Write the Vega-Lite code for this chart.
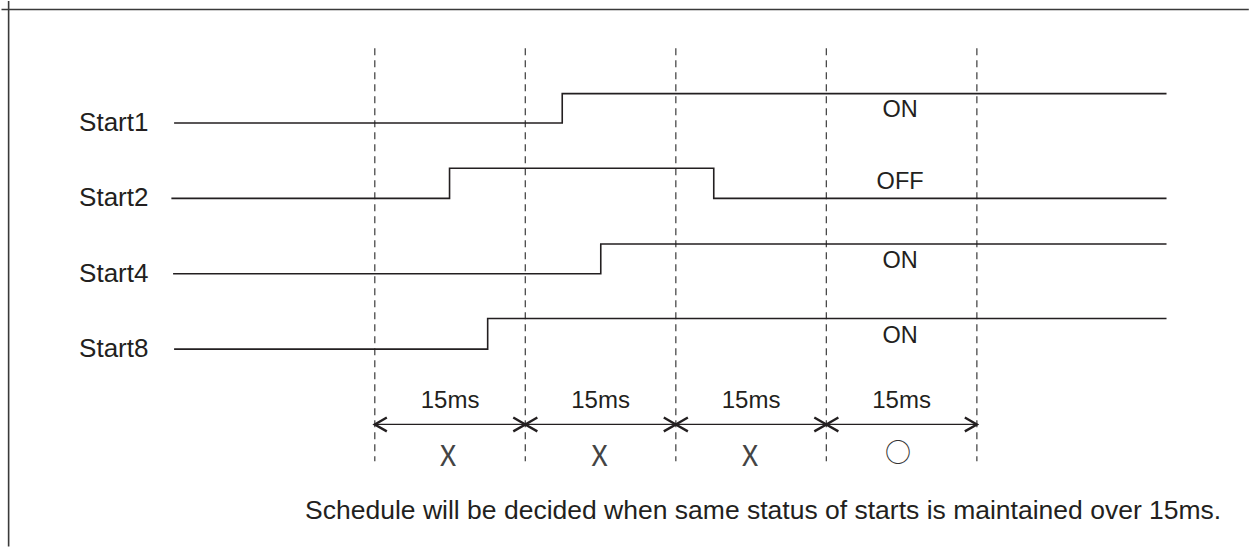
{
  "$schema": "https://vega.github.io/schema/vega-lite/v6.json",
  "width": 1250,
  "height": 548,
  "padding": 0,
  "autosize": {"type": "fit", "contains": "padding"},
  "background": "white",
  "config": {"view": {"stroke": null}},
  "encoding": {
    "x": {"field": "t", "type": "quantitative", "axis": null, "scale": {"domain": [-37.15, 87.02], "nice": false, "zero": false}},
    "y": {"field": "y", "type": "quantitative", "axis": null, "scale": {"domain": [-1.613, 5.619], "nice": false, "zero": false}}
  },
  "layer": [
    {
      "data": {"values": [
        {"t": -36.49, "y": 5.62, "t2": -36.49, "y2": -1.62},
        {"t": -37.2, "y": 5.507, "t2": 87.1, "y2": 5.507}
      ]},
      "mark": {"type": "rule", "color": "#3a3a3a", "strokeWidth": 1.6},
      "encoding": {"x2": {"field": "t2"}, "y2": {"field": "y2"}}
    },
    {
      "data": {"values": [
        {"t": 0, "y": 4.993, "y2": -0.49},
        {"t": 15, "y": 4.993, "y2": -0.49},
        {"t": 30, "y": 4.993, "y2": -0.49},
        {"t": 45, "y": 4.993, "y2": -0.49},
        {"t": 60, "y": 4.993, "y2": -0.49}
      ]},
      "mark": {"type": "rule", "color": "#4a4a4a", "strokeWidth": 1.3, "strokeDash": [7, 5]},
      "encoding": {"y2": {"field": "y2"}}
    },
    {
      "data": {"values": [
        {"signal": "Start1", "i": 0, "t": -20.0, "y": 4.0},
        {"signal": "Start1", "i": 1, "t": 18.68, "y": 4.0},
        {"signal": "Start1", "i": 2, "t": 18.68, "y": 4.39},
        {"signal": "Start1", "i": 3, "t": 78.9, "y": 4.39},
        {"signal": "Start2", "i": 0, "t": -20.27, "y": 3.0},
        {"signal": "Start2", "i": 1, "t": 7.45, "y": 3.0},
        {"signal": "Start2", "i": 2, "t": 7.45, "y": 3.4},
        {"signal": "Start2", "i": 3, "t": 33.78, "y": 3.4},
        {"signal": "Start2", "i": 4, "t": 33.78, "y": 3.0},
        {"signal": "Start2", "i": 5, "t": 78.9, "y": 3.0},
        {"signal": "Start4", "i": 0, "t": -20.1, "y": 2.0},
        {"signal": "Start4", "i": 1, "t": 22.52, "y": 2.0},
        {"signal": "Start4", "i": 2, "t": 22.52, "y": 2.395},
        {"signal": "Start4", "i": 3, "t": 78.9, "y": 2.395},
        {"signal": "Start8", "i": 0, "t": -20.0, "y": 1.0},
        {"signal": "Start8", "i": 1, "t": 11.25, "y": 1.0},
        {"signal": "Start8", "i": 2, "t": 11.25, "y": 1.405},
        {"signal": "Start8", "i": 3, "t": 78.9, "y": 1.405}
      ]},
      "mark": {"type": "line", "color": "#231f20", "strokeWidth": 1.6, "interpolate": "linear"},
      "encoding": {"detail": {"field": "signal"}, "order": {"field": "i"}}
    },
    {
      "data": {"values": [
        {"t": 0, "y": 0, "t2": 60}
      ]},
      "mark": {"type": "rule", "color": "#231f20", "strokeWidth": 1.3},
      "encoding": {"x2": {"field": "t2"}}
    },
    {
      "data": {"values": [
        {"head": "a", "i": 0, "t": 1.2, "y": 0.092}, {"head": "a", "i": 1, "t": 0, "y": 0}, {"head": "a", "i": 2, "t": 1.2, "y": -0.092},
        {"head": "b", "i": 0, "t": 13.8, "y": 0.092}, {"head": "b", "i": 1, "t": 15, "y": 0}, {"head": "b", "i": 2, "t": 13.8, "y": -0.092},
        {"head": "c", "i": 0, "t": 16.2, "y": 0.092}, {"head": "c", "i": 1, "t": 15, "y": 0}, {"head": "c", "i": 2, "t": 16.2, "y": -0.092},
        {"head": "d", "i": 0, "t": 28.8, "y": 0.092}, {"head": "d", "i": 1, "t": 30, "y": 0}, {"head": "d", "i": 2, "t": 28.8, "y": -0.092},
        {"head": "e", "i": 0, "t": 31.2, "y": 0.092}, {"head": "e", "i": 1, "t": 30, "y": 0}, {"head": "e", "i": 2, "t": 31.2, "y": -0.092},
        {"head": "f", "i": 0, "t": 43.8, "y": 0.092}, {"head": "f", "i": 1, "t": 45, "y": 0}, {"head": "f", "i": 2, "t": 43.8, "y": -0.092},
        {"head": "g", "i": 0, "t": 46.2, "y": 0.092}, {"head": "g", "i": 1, "t": 45, "y": 0}, {"head": "g", "i": 2, "t": 46.2, "y": -0.092},
        {"head": "h", "i": 0, "t": 58.8, "y": 0.092}, {"head": "h", "i": 1, "t": 60, "y": 0}, {"head": "h", "i": 2, "t": 58.8, "y": -0.092}
      ]},
      "mark": {"type": "line", "color": "#231f20", "strokeWidth": 2.4},
      "encoding": {"detail": {"field": "head"}, "order": {"field": "i"}}
    },
    {
      "data": {"values": [
        {"label": "Start1", "t": -29.47, "y": 4.0},
        {"label": "Start2", "t": -29.47, "y": 3.0},
        {"label": "Start4", "t": -29.47, "y": 2.0},
        {"label": "Start8", "t": -29.47, "y": 1.0}
      ]},
      "mark": {"type": "text", "align": "left", "baseline": "middle", "font": "Liberation Sans", "fontSize": 26, "color": "#231f20"},
      "encoding": {"text": {"field": "label"}}
    },
    {
      "data": {"values": [
        {"label": "ON", "t": 52.35, "y": 4.17},
        {"label": "OFF", "t": 52.35, "y": 3.22},
        {"label": "ON", "t": 52.35, "y": 2.17},
        {"label": "ON", "t": 52.35, "y": 1.18}
      ]},
      "mark": {"type": "text", "align": "center", "baseline": "middle", "font": "Liberation Sans", "fontSize": 23.5, "color": "#231f20"},
      "encoding": {"text": {"field": "label"}}
    },
    {
      "data": {"values": [
        {"label": "15ms", "t": 7.5, "y": 0.307},
        {"label": "15ms", "t": 22.5, "y": 0.307},
        {"label": "15ms", "t": 37.5, "y": 0.307},
        {"label": "15ms", "t": 52.5, "y": 0.307}
      ]},
      "mark": {"type": "text", "align": "center", "baseline": "middle", "font": "Liberation Sans", "fontSize": 24, "color": "#231f20"},
      "encoding": {"text": {"field": "label"}}
    },
    {
      "data": {"values": [
        {"label": "X", "t": 7.3, "y": -0.43},
        {"label": "X", "t": 22.4, "y": -0.43},
        {"label": "X", "t": 37.4, "y": -0.43}
      ]},
      "mark": {"type": "text", "align": "center", "baseline": "middle", "font": "Noto Sans CJK JP", "fontSize": 29, "color": "#444444"},
      "encoding": {"text": {"field": "label"}}
    },
    {
      "data": {"values": [
        {"label": "○", "t": 52.15, "y": -0.39}
      ]},
      "mark": {"type": "text", "align": "center", "baseline": "middle", "font": "Noto Sans CJK JP", "fontSize": 26, "color": "#333333"},
      "encoding": {"text": {"field": "label"}}
    },
    {
      "data": {"values": [
        {"label": "Schedule will be decided when same status of starts is maintained over 15ms.", "t": -6.95, "y": -1.152}
      ]},
      "mark": {"type": "text", "align": "left", "baseline": "middle", "font": "Liberation Sans", "fontSize": 26.5, "color": "#231f20"},
      "encoding": {"text": {"field": "label"}}
    }
  ]
}
